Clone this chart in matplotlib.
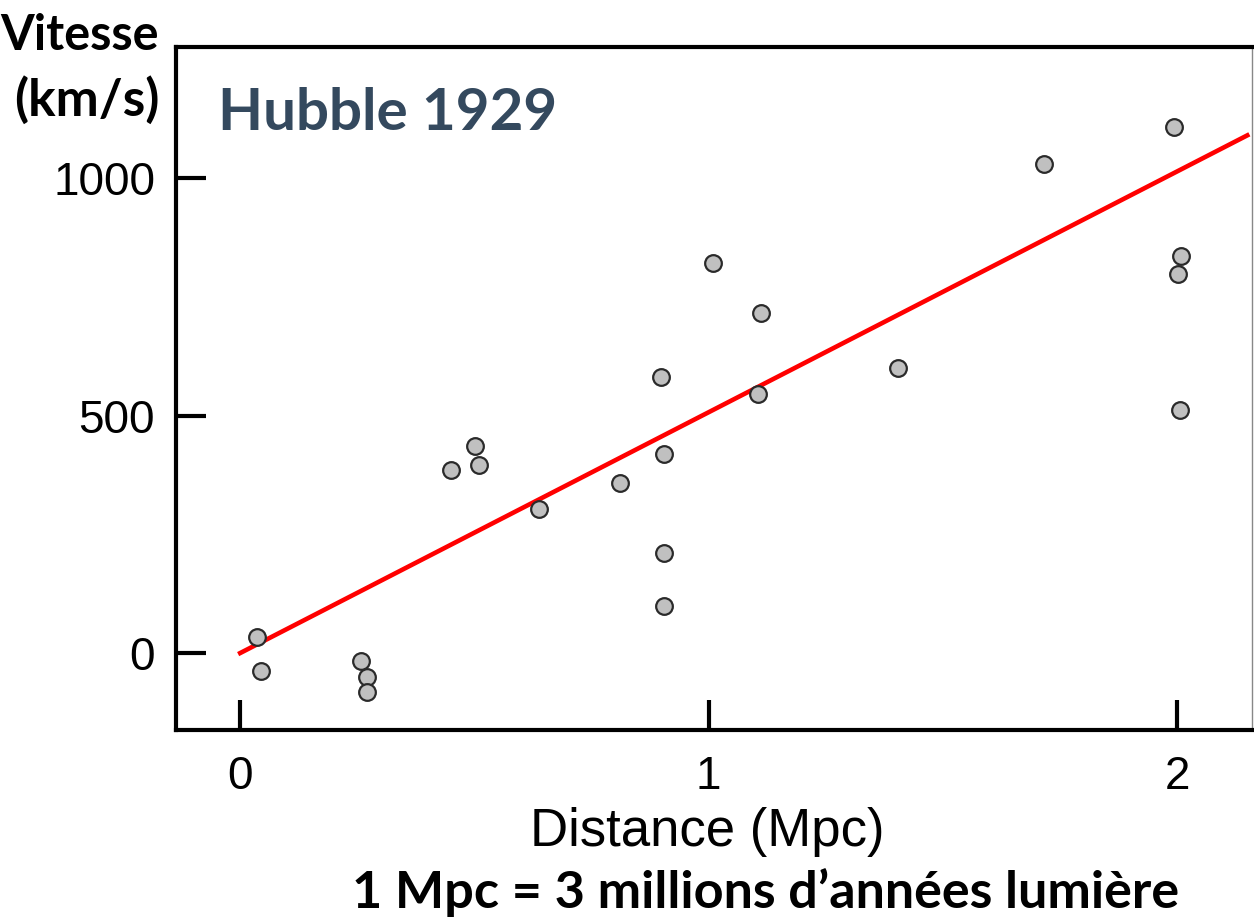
import matplotlib
matplotlib.use('Agg')
import matplotlib.pyplot as plt

# Données
distance = [0.036, 0.045, 0.258, 0.271, 0.271, 0.450, 0.502, 0.510, 0.638, 0.811,
            0.899, 0.905, 0.905, 0.905, 1.010, 1.112, 1.106, 1.404, 1.716, 1.994,
            2.009, 2.002, 2.006]
vitesse = [34, -38, -17, -50, -82, 385, 436, 396, 303, 358,
           581, 419, 211, 99, 821, 716, 545, 600, 1029, 1107,
           836, 798, 512]
# droite d'ajustement
fit_x = [0, 2.15]
fit_y = [0, 1090]
xticks = [0, 1, 2]
yticks = [0, 500, 1000]

W, H = 1254, 924
fig = plt.figure(figsize=(W / 100, H / 100), dpi=100)
ax = fig.add_axes([176 / W, (H - 730) / H, (1252 - 176) / W, (730 - 47) / H])

ax.plot(fit_x, fit_y, color='red', lw=3.3, zorder=2)
ax.plot(distance, vitesse, 'o', ms=12, mfc='#c0c0c0', mec='#2a2a2a', mew=1.6, zorder=3)

ax.set_xlim(-0.137, 2.16)
ax.set_ylim(-162, 1276)
ax.set_xticks(xticks)
ax.set_yticks(yticks)
ax.tick_params(direction='in', length=21.6, width=3, labelsize=33, color='black')
ax.tick_params(axis='x', pad=18)
ax.tick_params(axis='y', pad=15)
for lab in ax.get_xticklabels() + ax.get_yticklabels():
    lab.set_family('Liberation Sans')

for s in ['left', 'bottom', 'top']:
    ax.spines[s].set_linewidth(3)
ax.spines['right'].set_linewidth(1)
ax.spines['right'].set_color('#888888')

fig.text(707 / W, 1 - 832 / H, 'Distance (Mpc)', family='Liberation Sans', fontsize=38,
         ha='center', va='center')
fig.text(159 / W, 1 - 35 / H, 'Vitesse', family='Lato', weight='bold', fontsize=35,
         ha='right', va='center')
fig.text(159 / W, 1 - 100 / H, '(km/s)', family='Lato', weight='bold', fontsize=37,
         ha='right', va='center')
fig.text(218 / W, 1 - 113 / H, 'Hubble 1929', family='Lato', weight='bold', fontsize=42,
         color='#34495e', ha='left', va='center')
fig.text(766 / W, 1 - 893 / H, '1 Mpc = 3 millions d\u2019années lumière', family='Lato',
         weight='bold', fontsize=37.5, ha='center', va='center')

fig.savefig('out.png', dpi=100)
